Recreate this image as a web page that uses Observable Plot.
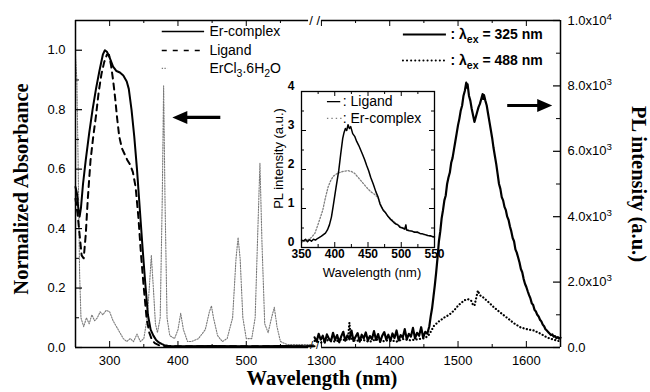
<!DOCTYPE html>
<html><head><meta charset="utf-8">
<script src="https://cdn.jsdelivr.net/npm/d3@7"></script>
<script src="https://cdn.jsdelivr.net/npm/@observablehq/plot@0.6"></script>
<style>
body{margin:0;background:#fff;}
#chart{position:relative;width:650px;height:392px;overflow:hidden;background:#fff;}
#chart svg{position:absolute;}
</style></head><body><div id="chart"></div>
<script>
// ---------- DATA ----------
const xBreakDomain = [250, 600, 1290, 1650];
const xTicksMajor = [300, 400, 500, 1300, 1400, 1500, 1600];
const xTicksMinor = [350, 450, 550, 1350, 1450, 1550];
const absTicksMajor = [0, 0.2, 0.4, 0.6, 0.8, 1.0];
const absTicksMinor = [0.1, 0.3, 0.5, 0.7, 0.9];
const plTicksMajor = [0, 2000, 4000, 6000, 8000, 10000];
const plTickLabels = ["0.0", "2.0x10^{3}", "4.0x10^{3}", "6.0x10^{3}", "8.0x10^{3}", "1.0x10^{4}"];
const plTicksMinor = [1000, 3000, 5000, 7000, 9000];
const insetXTicks = [350, 400, 450, 500, 550];
const insetXMinor = [375, 425, 475, 525];
const insetYTicks = [0, 1, 2, 3, 4];
const insetYMinor = [0.5, 1.5, 2.5, 3.5];

const absLegendLabels = ["Er-complex", "Ligand", "ErCl_{3}.6H_{2}O"];
const plLegendLabels = [": λ_{ex} = 325 nm", ": λ_{ex} = 488 nm"];
const insetLegendLabels = [": Ligand", ": Er-complex"];

// Normalized absorbance: [wavelength nm, absorbance]
const erComplexAbs = [[250,0.54],[252,0.52],[254,0.47],[256,0.44],[258,0.47],[261,0.55],[265,0.63],[270,0.72],[275,0.80],[280,0.87],[285,0.93],[290,0.985],[293,1.0],[296,0.995],[300,0.975],[305,0.945],[310,0.93],[315,0.925],[320,0.915],[325,0.895],[328,0.87],[332,0.80],[336,0.71],[340,0.60],[344,0.47],[348,0.34],[352,0.22],[356,0.11],[360,0.06],[364,0.04],[368,0.025],[372,0.017],[376,0.012],[380,0.008],[385,0.006],[390,0.005],[400,0.004],[450,0.005],[500,0.004],[550,0.005],[600,0.004]];
const ligandAbs = [[250,0.50],[253,0.45],[256,0.38],[259,0.31],[262,0.30],[265,0.38],[268,0.50],[272,0.63],[276,0.71],[280,0.78],[284,0.86],[288,0.92],[292,0.96],[296,0.985],[299,0.985],[302,0.95],[305,0.90],[308,0.84],[311,0.77],[314,0.71],[318,0.67],[322,0.65],[326,0.63],[330,0.615],[334,0.59],[338,0.54],[342,0.44],[346,0.31],[350,0.20],[354,0.10],[358,0.05],[362,0.025],[366,0.015],[372,0.008],[380,0.005],[400,0.004],[450,0.004],[500,0.004],[550,0.004],[600,0.004]];
const erclAbs = [[250,0.98],[252,0.9],[254,0.6],[256,0.25],[258,0.1],[262,0.07],[266,0.1],[270,0.08],[274,0.11],[278,0.09],[282,0.1],[286,0.12],[290,0.11],[295,0.125],[300,0.12],[305,0.09],[310,0.07],[315,0.05],[320,0.03],[325,0.02],[330,0.03],[335,0.02],[340,0.045],[345,0.02],[350,0.03],[355,0.1],[358,0.2],[361,0.31],[364,0.2],[367,0.08],[370,0.05],[374,0.1],[377,0.5],[379,0.88],[381,0.5],[384,0.1],[388,0.04],[395,0.03],[400,0.06],[404,0.115],[408,0.06],[414,0.02],[420,0.02],[430,0.03],[440,0.06],[446,0.12],[449,0.14],[452,0.1],[458,0.04],[465,0.02],[472,0.03],[480,0.1],[485,0.3],[488,0.37],[491,0.3],[495,0.1],[500,0.03],[508,0.03],[513,0.1],[517,0.4],[520,0.62],[523,0.35],[527,0.08],[532,0.05],[537,0.1],[541,0.135],[545,0.07],[550,0.02],[560,0.01],[580,0.01],[600,0.01]];

// PL intensity (a.u.): [wavelength nm, intensity]
const pl325 = [[1290,310],[1293,180],[1296,420],[1299,240],[1302,360],[1305,150],[1308,400],[1311,270],[1314,190],[1317,450],[1320,230],[1323,380],[1326,160],[1329,340],[1332,480],[1335,210],[1338,370],[1341,250],[1344,520],[1347,200],[1350,330],[1353,440],[1356,180],[1359,390],[1362,280],[1365,460],[1368,210],[1371,350],[1374,260],[1377,500],[1380,230],[1383,410],[1386,170],[1389,360],[1392,470],[1395,240],[1398,390],[1401,200],[1404,430],[1407,290],[1410,520],[1413,220],[1416,380],[1419,300],[1422,560],[1425,250],[1428,420],[1431,330],[1434,600],[1437,280],[1440,450],[1443,360],[1446,620],[1449,300],[1452,480],[1455,420],[1458,650],[1460,950],[1462,1200],[1464,1550],[1466,1900],[1468,2300],[1470,2750],[1472,3250],[1474,3550],[1476,3950],[1478,4200],[1480,4500],[1482,4650],[1484,5000],[1486,5200],[1488,5350],[1490,5650],[1492,5800],[1494,6050],[1496,6300],[1498,6550],[1500,6800],[1502,7000],[1504,7250],[1506,7400],[1508,7700],[1510,7850],[1512,8100],[1513,7950],[1514,8050],[1516,7700],[1518,7550],[1520,7300],[1522,7100],[1524,6900],[1526,7050],[1528,7200],[1530,7350],[1532,7450],[1534,7600],[1536,7750],[1537,7600],[1538,7720],[1540,7550],[1542,7400],[1544,7150],[1546,6900],[1548,6650],[1550,6400],[1552,6100],[1554,5850],[1556,5600],[1558,5300],[1560,5000],[1562,4850],[1564,4600],[1566,4500],[1568,4300],[1570,4200],[1572,4000],[1574,3900],[1576,3700],[1578,3550],[1580,3350],[1582,3250],[1584,3000],[1586,2900],[1588,2750],[1590,2600],[1592,2400],[1594,2300],[1596,2100],[1598,1950],[1600,1850],[1602,1720],[1604,1600],[1606,1500],[1608,1350],[1610,1300],[1612,1150],[1614,1100],[1616,1000],[1618,950],[1620,850],[1622,800],[1624,700],[1626,650],[1628,560],[1630,520],[1632,470],[1634,430],[1636,380],[1638,400],[1640,330],[1642,350],[1644,290],[1646,320],[1648,270],[1650,300]];
const pl488 = [[1290,200],[1300,150],[1310,230],[1320,180],[1330,250],[1336,210],[1339,300],[1341,760],[1343,280],[1350,200],[1360,240],[1370,170],[1380,250],[1390,190],[1400,230],[1410,180],[1420,260],[1430,220],[1440,250],[1450,280],[1456,350],[1460,480],[1465,670],[1472,800],[1480,920],[1487,1000],[1494,1130],[1501,1300],[1509,1440],[1514,1480],[1519,1440],[1522,1300],[1524,1280],[1527,1550],[1529,1740],[1532,1600],[1537,1530],[1545,1380],[1553,1220],[1563,1050],[1573,890],[1582,740],[1592,610],[1601,560],[1611,520],[1621,420],[1631,300],[1640,240],[1647,200],[1650,190]];

// Inset PL (a.u.): [wavelength nm, intensity]
const insetLigand = [[350,0.19],[353,0.17],[356,0.21],[359,0.15],[362,0.2],[365,0.16],[368,0.21],[371,0.19],[374,0.23],[377,0.26],[380,0.29],[383,0.33],[386,0.37],[389,0.45],[392,0.58],[395,0.78],[398,1.1],[402,1.55],[406,1.97],[409,2.4],[412,2.8],[414,2.95],[416,3.05],[418,3.0],[420,3.15],[422,3.05],[424,3.1],[427,2.92],[430,2.85],[433,2.72],[436,2.62],[439,2.5],[442,2.38],[445,2.25],[448,2.1],[451,1.97],[454,1.8],[458,1.62],[462,1.42],[465,1.3],[468,1.12],[470,1.05],[473,0.95],[476,0.9],[480,0.8],[484,0.72],[489,0.64],[492,0.6],[495,0.58],[498,0.52],[502,0.5],[505,0.47],[507,0.58],[508,0.45],[512,0.43],[516,0.42],[520,0.39],[524,0.4],[528,0.36],[532,0.35],[536,0.33],[540,0.31],[544,0.3],[547,0.28],[550,0.27]];
const insetErComplex = [[350,0.14],[355,0.16],[360,0.2],[365,0.26],[370,0.36],[374,0.55],[378,0.75],[382,0.96],[386,1.28],[390,1.55],[394,1.72],[398,1.83],[404,1.9],[410,1.94],[416,1.96],[420,1.97],[425,1.95],[430,1.9],[435,1.8],[440,1.7],[445,1.6],[450,1.5],[455,1.42],[460,1.36],[465,1.28],[470,1.05],[480,0.8],[490,0.65],[500,0.52],[510,0.45],[520,0.4],[530,0.35],[540,0.3],[550,0.26]];

// ---------- LAYOUT ----------
const W = 650, H = 392, mL = 75, mR = 90, mT = 20, mB = 45;
const fw = W - mL - mR, fh = H - mT - mB;
const segL = xBreakDomain[1] - xBreakDomain[0], segR = xBreakDomain[3] - xBreakDomain[2];
const breakPx = mL + fw * segL / (segL + segR);
const xScale = {type: "linear", domain: xBreakDomain, range: [mL, breakPx, breakPx, W - mR], axis: null};
const sans = "'Liberation Sans', Arial, sans-serif";
const serif = "'Liberation Serif', 'Times New Roman', serif";
const baseStyle = {background: "transparent", fontFamily: sans, fontSize: "13px", overflow: "visible"};
const X = d => d[0], Y = d => d[1];
const titleOpts = {fontFamily: serif, fontWeight: "bold", fontSize: 20.5, textAnchor: "middle", lineAnchor: "middle"};

const arrowShape = {
  draw(ctx, l) {
    const hl = 15, hw = 6.5, sw = 1.6;
    ctx.moveTo(-sw, 0); ctx.lineTo(-sw, -l + hl); ctx.lineTo(-hw, -l + hl);
    ctx.lineTo(0, -l); ctx.lineTo(hw, -l + hl); ctx.lineTo(sw, -l + hl); ctx.lineTo(sw, 0); ctx.closePath();
  }
};

function scripts(svg) {
  svg.querySelectorAll("text").forEach(t => {
    const s = t.textContent;
    if (!/[_^]\{/.test(s)) return;
    while (t.firstChild) t.removeChild(t.firstChild);
    let cur = 0, last = 0, m;
    const re = /([_^])\{([^}]*)\}/g;
    const add = (str, off, small) => {
      const ts = document.createElementNS("http://www.w3.org/2000/svg", "tspan");
      ts.textContent = str;
      if (off - cur) ts.setAttribute("dy", off - cur);
      if (small) ts.setAttribute("font-size", "75%");
      cur = off; t.appendChild(ts);
    };
    while ((m = re.exec(s))) {
      if (m.index > last) add(s.slice(last, m.index), 0, false);
      add(m[2], m[1] === "_" ? 4 : -5, true);
      last = re.lastIndex;
    }
    if (last < s.length) add(s.slice(last), 0, false);
  });
}

const chart = document.getElementById("chart");

// ---------- MAIN (absorbance) ----------
const main = Plot.plot({
  width: W, height: H, marginLeft: mL, marginRight: mR, marginTop: mT, marginBottom: mB,
  style: baseStyle,
  x: xScale,
  y: {domain: [0, 1.1], axis: null},
  marks: [
    Plot.line(erclAbs, {x: X, y: Y, stroke: "#7a7a7a", strokeWidth: 1.1, strokeDasharray: "1.3,1.4"}),
    Plot.line(ligandAbs, {x: X, y: Y, stroke: "black", strokeWidth: 2, strokeDasharray: "6,5"}),
    Plot.line(erComplexAbs, {x: X, y: Y, stroke: "black", strokeWidth: 2}),
    // frame with axis break
    Plot.ruleX([xBreakDomain[0], xBreakDomain[3]], {stroke: "black", strokeWidth: 1.5}),
    Plot.ruleY([0, 1.1], {x1: xBreakDomain[0], x2: xBreakDomain[1], insetRight: 6, stroke: "black", strokeWidth: 1.5}),
    Plot.ruleY([0, 1.1], {x1: xBreakDomain[2], x2: xBreakDomain[3], insetLeft: 7, stroke: "black", strokeWidth: 1.5}),
    Plot.text(["/ /"], {x: xBreakDomain[1], frameAnchor: "top", textAnchor: "middle", lineAnchor: "middle", fontSize: 13, fontFamily: sans}),
    Plot.text(["/ /"], {x: xBreakDomain[1], frameAnchor: "bottom", dy: -2, textAnchor: "middle", lineAnchor: "middle", fontSize: 11, fontFamily: sans}),
    // inward ticks
    Plot.ruleX(xTicksMajor, {insetTop: fh - 6, stroke: "black"}),
    Plot.ruleX(xTicksMajor, {insetBottom: fh - 6, stroke: "black"}),
    Plot.ruleX(xTicksMinor, {insetTop: fh - 3, stroke: "black"}),
    Plot.ruleX(xTicksMinor, {insetBottom: fh - 3, stroke: "black"}),
    Plot.ruleY(absTicksMajor, {insetRight: fw - 7, stroke: "black", strokeWidth: 1.2}),
    Plot.ruleY(absTicksMinor, {insetRight: fw - 4, stroke: "black"}),
    Plot.axisX(xTicksMajor, {anchor: "bottom", tickSize: 0, tickPadding: 8, fontSize: 13, tickFormat: d => String(d), label: null}),
    Plot.axisY(absTicksMajor, {anchor: "left", tickSize: 0, tickPadding: 10, fontSize: 13, tickFormat: d3.format(".1f"), label: null}),
    // titles
    Plot.text(["Normalized Absorbance"], {frameAnchor: "left", dx: -54, dy: 5, rotate: -90, ...titleOpts}),
    Plot.text(["Wavelength (nm)"], {frameAnchor: "bottom", dx: 4, dy: 31, ...titleOpts}),
    // legend
    Plot.ruleY([1.063], {x1: 377, x2: 439, stroke: "black", strokeWidth: 1.6}),
    Plot.ruleY([0.999], {x1: 377, x2: 439, stroke: "black", strokeWidth: 1.6, strokeDasharray: "5,6"}),
    Plot.ruleY([0.939], {x1: 377, x2: 385, stroke: "#7a7a7a", strokeWidth: 1.2, strokeDasharray: "1.3,1.4"}),
    Plot.text(absLegendLabels, {x: 446, y: (d, i) => [1.063, 0.999, 0.939][i], textAnchor: "start", fontSize: 14, fontFamily: sans}),
    // arrow pointing to left axis
    Plot.vector([0], {x: 462, y: 0.774, rotate: 270, length: 48, anchor: "start", shape: arrowShape, fill: "black", stroke: "none"})
  ]
});
main.style.left = "0px"; main.style.top = "0px";
scripts(main);
chart.appendChild(main);

// ---------- PL overlay ----------
const pl = Plot.plot({
  width: W, height: H, marginLeft: mL, marginRight: mR, marginTop: mT, marginBottom: mB,
  style: baseStyle,
  x: xScale,
  y: {domain: [0, 10000], axis: null},
  marks: [
    Plot.line(pl325, {x: X, y: Y, stroke: "black", strokeWidth: 2.2}),
    Plot.line(pl488, {x: X, y: Y, stroke: "black", strokeWidth: 2.2, strokeDasharray: "0.1,3.3", strokeLinecap: "round"}),
    Plot.ruleY(plTicksMajor, {insetLeft: fw - 7, stroke: "black", strokeWidth: 1.2}),
    Plot.ruleY(plTicksMinor, {insetLeft: fw - 4, stroke: "black"}),
    Plot.axisY(plTicksMajor, {anchor: "right", tickSize: 0, tickPadding: 7, fontSize: 13, tickFormat: d => plTickLabels[plTicksMajor.indexOf(d)], label: null}),
    Plot.text(["PL intensity (a.u.)"], {frameAnchor: "right", dx: 78, dy: 0, rotate: 90, ...titleOpts}),
    Plot.ruleY([9572], {x1: 1420, x2: 1483, stroke: "black", strokeWidth: 1.8}),
    Plot.ruleY([8777], {x1: 1420, x2: 1483, stroke: "black", strokeWidth: 2, strokeDasharray: "0.1,4", strokeLinecap: "round"}),
    Plot.text(plLegendLabels, {x: 1489, y: (d, i) => [9572, 8777][i], textAnchor: "start", fontSize: 14, fontWeight: "bold", fontFamily: sans}),
    Plot.vector([0], {x: 1572, y: 7401, rotate: 90, length: 45, anchor: "start", shape: arrowShape, fill: "black", stroke: "none"})
  ]
});
pl.style.left = "0px"; pl.style.top = "0px";
scripts(pl);
chart.appendChild(pl);

// ---------- INSET ----------
const IW = 200, IH = 200, iL = 46, iR = 21, iT = 11, iB = 33;
const ifw = IW - iL - iR, ifh = IH - iT - iB;
const inset = Plot.plot({
  width: IW, height: IH, marginLeft: iL, marginRight: iR, marginTop: iT, marginBottom: iB,
  style: baseStyle,
  x: {domain: [350, 550], axis: null},
  y: {domain: [0, 4], axis: null},
  marks: [
    Plot.line(insetErComplex, {x: X, y: Y, stroke: "#808080", strokeWidth: 1.3, strokeDasharray: "1.4,1.8"}),
    Plot.line(insetLigand, {x: X, y: Y, stroke: "black", strokeWidth: 1.5}),
    Plot.frame({stroke: "black", strokeWidth: 1.3}),
    Plot.ruleX(insetXTicks, {insetTop: ifh - 5, stroke: "black"}),
    Plot.ruleX(insetXTicks, {insetBottom: ifh - 5, stroke: "black"}),
    Plot.ruleX(insetXMinor, {insetTop: ifh - 3, stroke: "black"}),
    Plot.ruleX(insetXMinor, {insetBottom: ifh - 3, stroke: "black"}),
    Plot.ruleY(insetYTicks, {insetRight: ifw - 5, stroke: "black"}),
    Plot.ruleY(insetYTicks, {insetLeft: ifw - 5, stroke: "black"}),
    Plot.ruleY(insetYMinor, {insetRight: ifw - 3, stroke: "black"}),
    Plot.ruleY(insetYMinor, {insetLeft: ifw - 3, stroke: "black"}),
    Plot.axisX(insetXTicks, {anchor: "bottom", tickSize: 0, tickPadding: 2, fontSize: 12, fontWeight: "bold", label: null}),
    Plot.axisY(insetYTicks, {anchor: "left", tickSize: 0, tickPadding: 7, dy: -5, fontSize: 12, fontWeight: "bold", label: null}),
    Plot.text(["PL intensity (a.u.)"], {frameAnchor: "left", dx: -23, dy: -11, rotate: -90, textAnchor: "middle", lineAnchor: "middle", fontSize: 13, fontFamily: sans}),
    Plot.text(["Wavelength (nm)"], {frameAnchor: "bottom", dx: 4, dy: 25, textAnchor: "middle", lineAnchor: "middle", fontSize: 13, fontFamily: sans}),
    Plot.ruleY([3.74], {x1: 389, x2: 409, stroke: "black", strokeWidth: 1.3}),
    Plot.ruleY([3.31], {x1: 389, x2: 412, stroke: "#808080", strokeWidth: 1.3, strokeDasharray: "1.4,3"}),
    Plot.text(insetLegendLabels, {x: 412, y: (d, i) => [3.74, 3.31][i], textAnchor: "start", fontSize: 14, fontFamily: sans})
  ]
});
inset.style.left = "255px"; inset.style.top = "80px";
scripts(inset);
chart.appendChild(inset);
</script></body></html>
